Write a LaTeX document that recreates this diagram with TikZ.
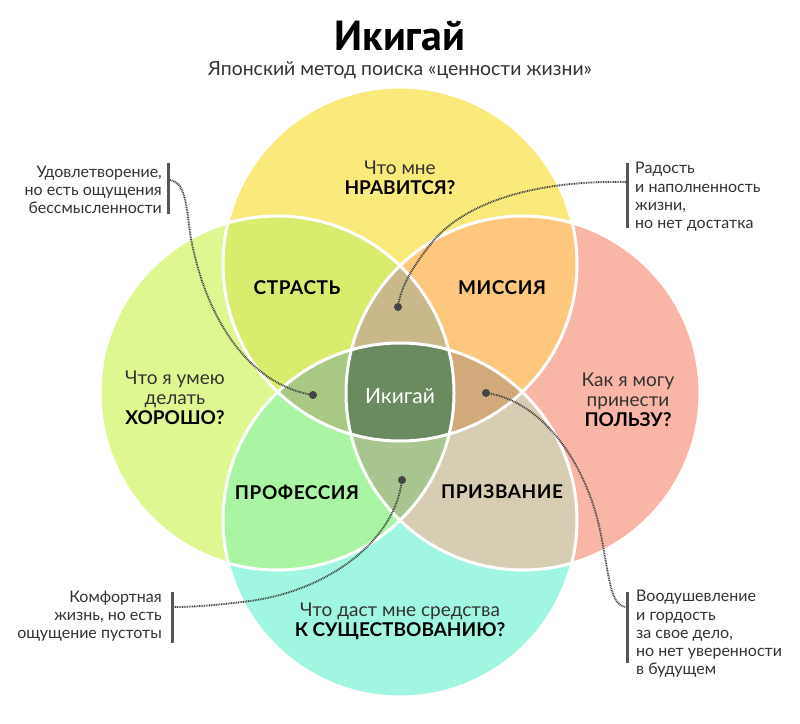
\documentclass[tikz,border=0pt]{standalone}
\usepackage{fontspec}
\setmainfont{Lato}
\newfontfamily\titlefont{PT Sans}
\definecolor{cT}{HTML}{FAEA7C}
\definecolor{cL}{HTML}{DFF791}
\definecolor{cR}{HTML}{F9B5A6}
\definecolor{cB}{HTML}{A0F6E0}
\definecolor{cTL}{HTML}{D9EC6E}
\definecolor{cTR}{HTML}{FDC77E}
\definecolor{cLB}{HTML}{AAF5A3}
\definecolor{cRB}{HTML}{D7CDB3}
\definecolor{cTLR}{HTML}{C9B98A}
\definecolor{cTLB}{HTML}{A9C883}
\definecolor{cTRB}{HTML}{D2A97A}
\definecolor{cLRB}{HTML}{A9C58F}
\definecolor{cAll}{HTML}{6A8A60}
\definecolor{txt}{HTML}{333333}
\definecolor{dk}{HTML}{444444}
\definecolor{barc}{HTML}{555555}
\begin{document}
\begin{tikzpicture}[x=1pt,y=-1pt,
  qtext/.style={align=center,inner sep=0pt,text=txt,font=\fontsize{19}{20}\selectfont},
  region/.style={inner sep=0pt,text=black,font=\addfontfeatures{LetterSpace=3}\bfseries\fontsize{19}{20}\selectfont},
  note/.style={inner sep=0pt,text=txt,font=\fontsize{16}{18.3}\selectfont},
  bar/.style={draw=barc,line width=3pt},
  conn/.style={draw=dk,line width=1.9pt,dash pattern=on 0.9pt off 0.8pt},
  enddot/.style={fill=dk},
  rim/.style={draw=white,line width=3pt}]
\useasboundingbox (0,0) rectangle (800,723);
\fill[white] (0,0) rectangle (800,723);
\def\r{177}
\coordinate (T) at (400,264);
\coordinate (B) at (400,520);
\coordinate (L) at (277,393);
\coordinate (R) at (523,393);
% single circles
\fill[cT] (T) circle (\r);
\fill[cL] (L) circle (\r);
\fill[cR] (R) circle (\r);
\fill[cB] (B) circle (\r);
% pairs
\begin{scope}\clip (T) circle (\r); \fill[cTL] (L) circle (\r); \end{scope}
\begin{scope}\clip (T) circle (\r); \fill[cTR] (R) circle (\r); \end{scope}
\begin{scope}\clip (B) circle (\r); \fill[cLB] (L) circle (\r); \end{scope}
\begin{scope}\clip (B) circle (\r); \fill[cRB] (R) circle (\r); \end{scope}
% triples
\begin{scope}\clip (T) circle (\r); \clip (L) circle (\r); \fill[cTLR] (R) circle (\r); \end{scope}
\begin{scope}\clip (T) circle (\r); \clip (L) circle (\r); \fill[cTLB] (B) circle (\r); \end{scope}
\begin{scope}\clip (T) circle (\r); \clip (R) circle (\r); \fill[cTRB] (B) circle (\r); \end{scope}
\begin{scope}\clip (B) circle (\r); \clip (L) circle (\r); \fill[cLRB] (R) circle (\r); \end{scope}
% all four
\begin{scope}\clip (T) circle (\r); \clip (L) circle (\r); \clip (R) circle (\r); \fill[cAll] (B) circle (\r); \end{scope}
% white rims
\draw[rim] (T) circle (\r);
\draw[rim] (L) circle (\r);
\draw[rim] (R) circle (\r);
\draw[rim] (B) circle (\r);

% title
\node[inner sep=0pt] (title) at (400,36) {\titlefont\bfseries\fontsize{42}{42}\selectfont Икигай};
\node[inner sep=0pt,text=txt] (subtitle) at (400,70) {\fontsize{19.4}{20}\selectfont Японский метод поиска «ценности жизни»};

% questions
\node[qtext] (qT) at (400,178) {Что мне\\\textbf{\color{black}НРАВИТСЯ?}};
\node[qtext] (qL) at (175,398) {Что я умею\\делать\\\textbf{\color{black}ХОРОШО?}};
\node[qtext] (qR) at (628,400) {Как я могу\\принести\\\textbf{\color{black}ПОЛЬЗУ?}};
\node[qtext] (qB) at (400,621) {Что даст мне средства\\\textbf{\color{black}К СУЩЕСТВОВАНИЮ?}};

% regions
\node[region] (strast) at (297,288) {СТРАСТЬ};
\node[region] (missia) at (502,288) {МИССИЯ};
\node[region] (prof) at (297,492) {ПРОФЕССИЯ};
\node[region] (prizv) at (502,492) {ПРИЗВАНИЕ};
\node[inner sep=0pt,text=white,font=\fontsize{21}{22}\selectfont] (iki) at (400,396) {Икигай};

% notes
\node[note,anchor=east,align=right] (n1) at (162,190) {Удовлетворение,\\но есть ощущения\\бессмысленности};
\node[note,anchor=west,align=left] (n2) at (635,197) {Радость\\и наполненность\\жизни,\\но нет достатка};
\node[note,anchor=east,align=right] (n3) at (162,616) {Комфортная\\жизнь, но есть\\ощущение пустоты};
\node[note,anchor=west,align=left] (n4) at (636,634) {Воодушевление\\и гордость\\за свое дело,\\но нет уверенности\\в будущем};

% bars
\coordinate (b1t) at (168,163); \coordinate (b1b) at (168,214);
\coordinate (b2t) at (627,163); \coordinate (b2b) at (627,228);
\coordinate (b3t) at (172,592); \coordinate (b3b) at (172,643);
\coordinate (b4t) at (627,592); \coordinate (b4b) at (627,663);
\draw[bar] (b1t) -- (b1b);
\draw[bar] (b2t) -- (b2b);
\draw[bar] (b3t) -- (b3b);
\draw[bar] (b4t) -- (b4b);

% connector end points
\coordinate (s1) at (170,180);
\coordinate (s2) at (626,182);
\coordinate (s3) at (174,607);
\coordinate (s4) at (626,607);
\coordinate (d1) at (313,395);
\coordinate (d2) at (398,307);
\coordinate (d3) at (486,393);
\coordinate (d4) at (402,480);

\draw[conn] (s1) .. controls (184,182) and (186,200) .. (190,233) .. controls (205,320) and (250,385) .. (d1);
\draw[conn] (s2) .. controls (530,180) and (460,205) .. (430,245) .. controls (410,270) and (400,290) .. (d2);
\draw[conn] (d3) .. controls (540,400) and (585,460) .. (600,530) .. controls (610,580) and (610,605) .. (s4);
\draw[conn] (d4) .. controls (395,540) and (330,590) .. (250,601) .. controls (210,606) and (190,607) .. (s3);

\fill[enddot] (d1) circle (4);
\fill[enddot] (d2) circle (4);
\fill[enddot] (d3) circle (4);
\fill[enddot] (d4) circle (4);
\end{tikzpicture}
\end{document}
